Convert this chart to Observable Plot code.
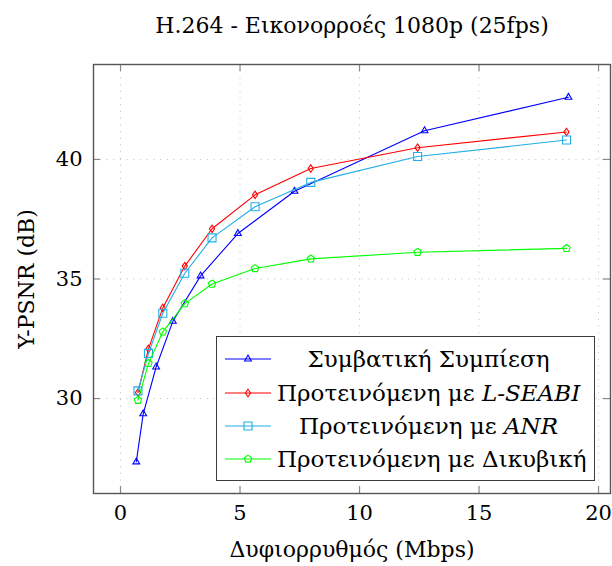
<!DOCTYPE html>
<html><head><meta charset="utf-8">
<script src="https://cdn.jsdelivr.net/npm/d3@7"></script>
<script src="https://cdn.jsdelivr.net/npm/@observablehq/plot@0.6"></script>
<style>
body{margin:0;background:#fff;}
#wrap{position:relative;width:612px;height:566px;font-family:"DejaVu Serif",serif;}
#legend{position:absolute;left:216px;top:336px;width:379px;height:145px;box-sizing:border-box;border:1.3px solid #3c3c3c;background:#fff;}
.row{position:absolute;left:0;width:100%;height:30px;}
.row svg{position:absolute;left:8px;top:5px;}
.row span{position:absolute;left:60px;width:303px;top:0;line-height:30px;text-align:center;white-space:nowrap;font-size:23px;color:#000;font-family:"DejaVu Serif",serif;}
</style>
</head><body>
<div id="wrap"></div>
<script>
const title = "H.264 - Εικονορροές 1080p (25fps)";
const xLabel = "Δυφιορρυθμός (Mbps)";
const yLabel = "Y-PSNR (dB)";
const xTicks = [0, 5, 10, 15, 20];
const yTicks = [30, 35, 40];
const names = ["Συμβατική Συμπίεση", "Προτεινόμενη με L-SEABI", "Προτεινόμενη με ANR", "Προτεινόμενη με Δικυβική"];
const legendHtml = ["Συμβατική Συμπίεση", "Προτεινόμενη με <i>L-SEABI</i>", "Προτεινόμενη με <i>ANR</i>", "Προτεινόμενη με Δικυβική"];
const colors = ["#0000ff", "#ff0000", "#22aee6", "#00ff00"];

const bitrateConv = [0.66, 0.95, 1.49, 2.19, 3.35, 4.91, 7.28, 12.72, 18.74];
const psnrConv = [27.35, 29.36, 31.32, 33.23, 35.13, 36.9, 38.67, 41.2, 42.6];
const bitrateProp = [0.73, 1.17, 1.77, 2.69, 3.83, 5.63, 7.96, 12.43, 18.66];
const psnrLSEABI = [30.25, 32.08, 33.79, 35.54, 37.1, 38.52, 39.62, 40.49, 41.15];
const psnrANR = [30.32, 31.89, 33.57, 35.24, 36.72, 38.02, 39.04, 40.12, 40.81];
const psnrBicubic = [29.93, 31.47, 32.79, 33.97, 34.79, 35.44, 35.84, 36.12, 36.28];

const seriesX = [bitrateConv, bitrateProp, bitrateProp, bitrateProp];
const seriesY = [psnrConv, psnrLSEABI, psnrANR, psnrBicubic];

// marker shapes
const symTriangle = {draw(c){ const R=3.9; c.moveTo(0,-R); c.lineTo(R*0.866,R*0.5); c.lineTo(-R*0.866,R*0.5); c.closePath(); }};
const symDiamond = {draw(c){ const h=3.7,w=2.6; c.moveTo(0,-h); c.lineTo(w,0); c.lineTo(0,h); c.lineTo(-w,0); c.closePath(); }};
const symSquare = {draw(c){ const s=4; c.rect(-s,-s,2*s,2*s); }};
const symPentagon = {draw(c){ const R=3.9; for(let i=0;i<5;i++){ const a=-Math.PI/2+i*2*Math.PI/5; const px=R*Math.cos(a), py=R*Math.sin(a); if(i===0) c.moveTo(px,py); else c.lineTo(px,py);} c.closePath(); }};
const symbols = [symTriangle, symDiamond, symSquare, symPentagon];

const W=612, H=566, mL=93, mR=2, mT=64, mB=73;
const plotH = H-mT-mB, plotW = W-mL-mR;
const FONT = '"DejaVu Serif",serif';

const seriesMarks = names.flatMap((name, k) => {
  const data = seriesX[k].map((x, i) => ({x, y: seriesY[k][i]}));
  return [
    Plot.line(data, {x: "x", y: "y", stroke: colors[k], strokeWidth: 1.1}),
    Plot.dot(data, {x: "x", y: "y", stroke: colors[k], strokeWidth: 1.1, fill: "none", symbol: symbols[k], r: 4})
  ];
});

const chart = Plot.plot({
  width: W, height: H, marginLeft: mL, marginRight: mR, marginTop: mT, marginBottom: mB,
  style: {fontFamily: FONT, fontSize: "21px", color: "#000", background: "white"},
  x: {domain: [-1.13, 20.5]},
  y: {domain: [26.03, 43.97]},
  marks: [
    Plot.ruleX(xTicks, {stroke: "#c8c8c8", strokeDasharray: "1.2,5.5", strokeWidth: 1}),
    Plot.ruleY(yTicks, {stroke: "#c8c8c8", strokeDasharray: "1.2,5.5", strokeWidth: 1}),
    Plot.ruleX(xTicks, {insetTop: plotH-7, stroke: "#888", strokeWidth: 1.2}),
    Plot.ruleX(xTicks, {insetBottom: plotH-7, stroke: "#888", strokeWidth: 1.2}),
    Plot.ruleY(yTicks, {insetRight: plotW-7, stroke: "#888", strokeWidth: 1.2}),
    Plot.ruleY(yTicks, {insetLeft: plotW-7, stroke: "#888", strokeWidth: 1.2}),
    Plot.axisX(xTicks, {tickSize: 0, tickPadding: 12, fontSize: 21, label: null}),
    Plot.axisY(yTicks, {tickSize: 0, tickPadding: 11, fontSize: 21, label: null}),
    ...seriesMarks,
    Plot.frame({stroke: "#555", strokeWidth: 1.4}),
    Plot.text([title], {text: d => d, frameAnchor: "top", textAnchor: "middle", lineAnchor: "middle", dy: -39, fontSize: 22}),
    Plot.text([xLabel], {text: d => d, frameAnchor: "bottom", textAnchor: "middle", lineAnchor: "middle", dy: 56, fontSize: 22}),
    Plot.text([yLabel], {text: d => d, frameAnchor: "left", textAnchor: "middle", lineAnchor: "middle", dx: -67, rotate: -90, fontSize: 22})
  ]
});
const wrap = document.getElementById("wrap");
wrap.appendChild(chart);

// legend
const legend = document.createElement("div");
legend.id = "legend";
const rowCenters = [22, 56, 89, 122];
names.forEach((name, k) => {
  const row = document.createElement("div");
  row.className = "row";
  row.style.top = (rowCenters[k] - 15) + "px";
  const svg = d3.create("svg").attr("width", 46).attr("height", 20);
  svg.append("line").attr("x1", 0).attr("x2", 46).attr("y1", 10).attr("y2", 10).attr("stroke", colors[k]).attr("stroke-width", 1.1);
  const p = d3.path();
  symbols[k].draw(p);
  svg.append("path").attr("d", p.toString()).attr("transform", "translate(23,10)").attr("fill", "none").attr("stroke", colors[k]).attr("stroke-width", 1.1);
  row.appendChild(svg.node());
  const span = document.createElement("span");
  span.innerHTML = legendHtml[k];
  row.appendChild(span);
  legend.appendChild(row);
});
wrap.appendChild(legend);
</script>
</body></html>
